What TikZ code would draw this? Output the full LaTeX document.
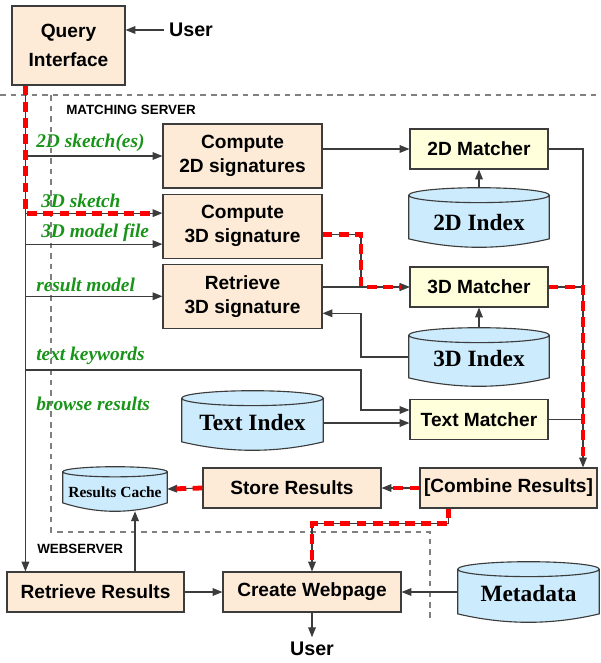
\documentclass[tikz,border=0pt]{standalone}
\usepackage{fontspec}
\setmainfont{Liberation Serif}
\setsansfont{Liberation Sans}
\usetikzlibrary{arrows.meta, backgrounds, calc, positioning}

\definecolor{boxpeach}{RGB}{253,235,216}
\definecolor{boxyellow}{RGB}{255,255,220}
\definecolor{dbblue}{RGB}{204,235,252}
\definecolor{lblgreen}{RGB}{24,148,24}
\definecolor{edgegray}{RGB}{60,60,60}

\tikzset{
    procbox/.style={draw=edgegray, line width=0.8pt, fill=boxpeach, inner sep=1pt, align=center,
        font=\sffamily\bfseries\fontsize{13.6}{17}\selectfont},
    matchbox/.style={procbox, fill=boxyellow, minimum width=3.45cm, minimum height=1cm},
    dbtext/.style={inner sep=0pt, text height=14pt, text depth=0pt,
        font=\bfseries\fontsize{16.6}{19}\selectfont},
    lbl/.style={anchor=base west, inner sep=0pt, text=lblgreen,
        font=\bfseries\itshape\fontsize{13.8}{16}\selectfont},
    tag/.style={anchor=base west, inner sep=0pt, font=\sffamily\bfseries\fontsize{9.5}{11}\selectfont},
    usr/.style={font=\sffamily\bfseries\fontsize{14}{16}\selectfont},
    conn/.style={draw=edgegray, line width=0.8pt, -{Triangle[length=7pt,width=5.5pt]}},
    plain/.style={draw=edgegray, line width=0.8pt},
    hot/.style={draw=red, line width=3.4pt, dash pattern=on 7pt off 4.5pt, shorten >=6pt},
    region/.style={draw=gray, line width=0.8pt, dash pattern=on 4pt off 3.5pt}
}

% cylinder body drawn round a node: name, cap radius
\newcommand{\dbshape}[2]{%
  \path[fill=dbblue, draw=edgegray, line width=0.8pt]
    let \p1=(#1.north west), \p2=(#1.south east) in
    (\x1,\y1-#2) -- (\x1,\y2+6pt)
    .. controls ({\x1+(\x2-\x1)/3},\y2-2pt) and ({\x2-(\x2-\x1)/3},\y2-2pt) .. (\x2,\y2+6pt)
    -- (\x2,\y1-#2) arc[start angle=0, end angle=180, x radius={(\x2-\x1)/2}, y radius=#2] -- cycle
    ({(\x1+\x2)/2},\y1-#2) ellipse[x radius={(\x2-\x1)/2}, y radius=#2];
}

\begin{document}
\begin{tikzpicture}[x=0.025cm, y=-0.025cm]
    \useasboundingbox (0,0) rectangle (600,663);

    % boxes
    \node[procbox, minimum width=2.825cm, minimum height=1.975cm] (qi) at (68.5,45.5) {Query\\[4pt]Interface};
    \node[usr] (usr1) at (191,30) {User};
    \node[procbox, minimum width=3.975cm, minimum height=1.6cm] (cs2) at (242.5,156) {Compute\\2D signatures};
    \node[procbox, minimum width=3.975cm, minimum height=1.6cm, below=0.125cm of cs2] (cs3) {Compute\\3D signature};
    \node[procbox, minimum width=3.975cm, minimum height=1.6cm, below=0.125cm of cs3] (rs3) {Retrieve\\3D signature};
    \node[matchbox] (m2) at (479,149) {2D Matcher};
    \node[matchbox] (m3) at (479,287) {3D Matcher};
    \node[matchbox] (mt) at (479,419.5) {Text Matcher};
    \node[procbox, minimum width=4.425cm, minimum height=1cm] (cmb) at (508.5,488) {[Combine Results]};
    \node[procbox, minimum width=4.45cm, minimum height=1cm] (sto) at (292,488) {Store Results};
    \node[procbox, minimum width=4.425cm, minimum height=1cm] (rr) at (95.5,592) {Retrieve Results};
    \node[procbox, minimum width=4.45cm, minimum height=1cm] (cw) at (312,592) {Create Webpage};
    \node[usr] (usr2) at (cw.south |- 0,649) {User};

    % databases
    \node[dbtext, minimum width=3.5cm, minimum height=1.475cm, text height=18pt] (ix2) at (479,217.5) {2D Index};
    \node[dbtext, minimum width=3.5cm, minimum height=1.45cm] (ix3) at (479,357) {3D Index};
    \node[dbtext, minimum width=3.525cm, minimum height=1.475cm] (ixt) at (252.5,420.5) {Text Index};
    \node[dbtext, minimum width=3.525cm, minimum height=1.5cm] (meta) at (528.5,592) {Metadata};
    \node[dbtext, minimum width=2.6cm, minimum height=1.1cm, text height=12.3pt,
        font=\bfseries\fontsize{11}{13}\selectfont] (cache) at (115,489) {Results Cache};
    \begin{pgfonlayer}{background}
        \dbshape{ix2}{5.3pt}
        \dbshape{ix3}{5.3pt}
        \dbshape{ixt}{5.3pt}
        \dbshape{meta}{5.3pt}
        \dbshape{cache}{3.6pt}
    \end{pgfonlayer}

    % labels
    \node[lbl] (l2d) at (36,148) {2D sketch(es)};
    \node[lbl] (l3s) at (41,207) {3D sketch};
    \node[lbl] (l3f) at (41,237) {3D model file};
    \node[lbl] (lrm) at (36,291) {result model};
    \node[lbl] (ltk) at (36,360) {text keywords};
    \node[lbl] (lbr) at (36,410) {browse results};
    \node[tag] (tms) at (66,115) {MATCHING SERVER};
    \node[tag] (tws) at (37,553) {WEBSERVER};

    % server borders
    \draw[region] (0,95) -- (600,95);
    \draw[region] (51,95) -- (51,532) -- (430,532) -- (430,620);

    \coordinate (trunk) at ($(qi.south west)+(14,0)$);
    \coordinate (jx) at (361,0);
    \coordinate (rx) at (583,0);
    \coordinate (in3s) at ($(cs3.west)+(0,-13)$);
    \coordinate (in3f) at ($(cs3.west)+(0,18)$);
    \coordinate (out3) at ($(cs3.east)+(0,8)$);
    \coordinate (rrup) at ($(rr.north)+(39.5,0)$);
    \coordinate (cmbout) at ($(cmb.south west)+(29,0)$);

    % connectors
    \draw[conn] (usr1.west) -- (usr1.west -| qi.east);
    \draw[conn] (trunk) -- (trunk |- rr.north);
    \draw[conn] (trunk |- cs2.west) -- (cs2.west);
    \draw[conn] (trunk |- in3s) -- (in3s);
    \draw[conn] (trunk |- in3f) -- (in3f);
    \draw[conn] (trunk |- rs3.west) -- (rs3.west);
    \draw[conn] (trunk |- 0,370) -- (jx |- 0,370) |- ($(mt.west)+(0,-9.5)$);
    \draw[conn] (cs2.east |- m2.west) -- (m2.west);
    \draw[conn] (out3) -| (jx |- m3.west) -- (m3.west);
    \draw[conn] (rs3.east |- m3.west) -- (m3.west);
    \draw[conn] (ix3.west) -- (jx |- ix3.west) |- ($(rs3.east)+(0,17)$);
    \draw[conn] (ix2.north) -- (m2.south);
    \draw[conn] (ix3.north) -- (m3.south);
    \draw[conn] ($(ixt.east)+(0,2.5)$) -- ($(mt.west)+(0,3.5)$);
    \draw[conn] (m2.east) -| (rx |- cmb.north);
    \draw[plain] (m3.east) -- (m3.east -| rx);
    \draw[plain] (mt.east) -- (mt.east -| rx);
    \draw[conn] (cmb.west) -- (sto.east);
    \draw[conn] (sto.west) -- (cache.east);
    \draw[conn] (cmbout) -- ++(0,15) -| (cw.north);
    \draw[conn] (rrup) -- (rrup |- cache.south);
    \draw[conn] (rr.east) -- (cw.west);
    \draw[conn] (meta.west) -- (cw.east);
    \draw[conn] (cw.south) -- (usr2.north);

    % query path
    \draw[hot] (trunk) |- (in3s);
    \draw[hot] (out3) -| (jx |- m3.west) -- (m3.west);
    \draw[hot] (m3.east) -| (rx |- cmb.north);
    \draw[hot] (cmb.west) -- (sto.east);
    \draw[hot] (sto.west) -- (cache.east);
    \draw[hot] (cmbout) -- ++(0,15) -| (cw.north);
\end{tikzpicture}
\end{document}
